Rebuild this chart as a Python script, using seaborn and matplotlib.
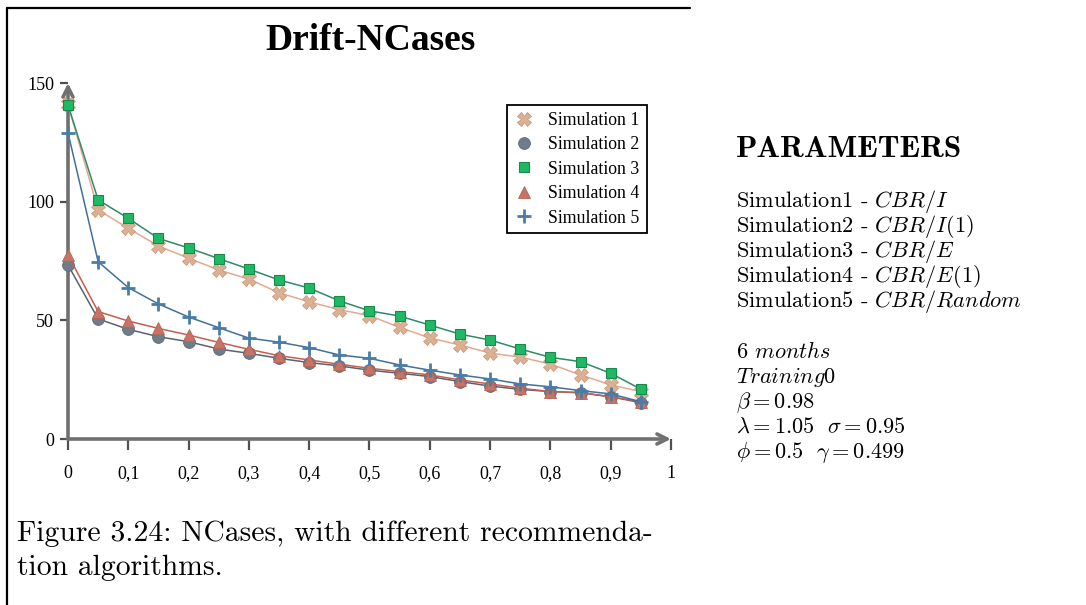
import matplotlib
matplotlib.use("Agg")
import matplotlib.pyplot as plt
import seaborn as sns
from matplotlib.lines import Line2D

# ---------------- data ----------------
drift = [0.0, 0.05, 0.1, 0.15, 0.2, 0.25, 0.3, 0.35, 0.4, 0.45,
         0.5, 0.55, 0.6, 0.65, 0.7, 0.75, 0.8, 0.85, 0.9, 0.95]
sim1 = [141, 96.5, 88.8, 81.3, 76.2, 71.2, 67.4, 61.6, 57.8, 54.5,
        52, 47, 42.6, 39.6, 36.2, 34.5, 31.6, 27, 22.8, 20]
sim2 = [73.3, 50.6, 46.2, 43.1, 41, 37.9, 36.1, 34, 32.2, 30.8,
        29, 27.7, 26.3, 24.2, 22.3, 20.9, 20, 19.5, 17.8, 15.3]
sim3 = [140.7, 100.7, 93, 84.5, 80.5, 76, 71.6, 67, 63.6, 58.2,
        54, 51.8, 48, 44.2, 41.7, 37.9, 34.4, 32.6, 27.7, 21]
sim4 = [77.5, 53.7, 49.7, 46.6, 43.8, 40.7, 37.8, 35.1, 33.3, 31.5,
        29.8, 28.4, 27, 24.9, 23.2, 21.4, 20, 19.5, 17.8, 15.7]
sim5 = [129, 74.7, 63.8, 56.9, 51.4, 46.9, 42.5, 40.8, 38.5, 35.4,
        34, 31.2, 29, 27, 25.3, 23.2, 22, 20.4, 19, 15.7]
series_labels = ["Simulation 1", "Simulation 2", "Simulation 3", "Simulation 4", "Simulation 5"]
x_ticks = [0, 0.1, 0.2, 0.3, 0.4, 0.5, 0.6, 0.7, 0.8, 0.9, 1.0]
x_ticklabels = ["0", "0,1", "0,2", "0,3", "0,4", "0,5", "0,6", "0,7", "0,8", "0,9", "1"]
y_ticks = [0, 50, 100, 150]
y_ticklabels = ["0", "50", "100", "150"]

title = "Drift-NCases"
param_title = "PARAMETERS"
param_sims = [r"Simulation1 - $CBR/I$", r"Simulation2 - $CBR/I(1)$",
              r"Simulation3 - $CBR/E$", r"Simulation4 - $CBR/E(1)$",
              r"Simulation5 - $CBR/Random$"]
param_other = [r"6 $months$", r"$Training0$", r"$\beta = 0.98$",
               r"$\lambda = 1.05\ \ \sigma = 0.95$",
               r"$\phi = 0.5\ \ \gamma = 0.499$"]
caption = ["Figure 3.24: NCases, with different recommenda-", "tion algorithms."]

# ---------------- style ----------------
sns.set_style("white")
plt.rcParams["mathtext.fontset"] = "cm"
plt.rcParams["font.family"] = ["Liberation Serif", "DejaVu Serif"]
plt.rcParams["text.color"] = "black"
plt.rcParams["axes.labelcolor"] = "black"
plt.rcParams["xtick.color"] = "black"
plt.rcParams["ytick.color"] = "black"

W, H = 1086, 605
def fx(x):
    return x / W
def fy(y):
    return 1 - y / H

fig = plt.figure(figsize=(W / 100, H / 100), dpi=100)
fig.patch.set_facecolor("white")
ax = fig.add_axes([fx(68), fy(439), (671 - 68) / W, (439 - 83) / H])
ax.set_facecolor("white")

styles = [
    # values, line color, marker, face, edge, size, mew, zorder
    (sim1, "#e4a98f", "X", "#dcb092", "#c99a7c", 9.5, 0.6, 3),
    (sim2, "#5a6270", "o", "#6f7c8a", "#5e6a78", 8.5, 0.6, 4),
    (sim4, "#c25f50", "^", "#c77466", "#b86555", 9, 0.6, 5),
    (sim5, "#41709a", "+", "#4a7ca8", "#4a7ca8", 10.5, 2.0, 6),
    (sim3, "#2f8a66", "s", "#1fb865", "#178a4c", 7.5, 0.8, 7),
]
for vals, lc, m, fc, ec, ms, mew, z in styles:
    sns.lineplot(x=drift, y=vals, ax=ax, color=lc, linewidth=1.1,
                 marker=m, markersize=ms, markerfacecolor=fc,
                 markeredgecolor=ec, markeredgewidth=mew,
                 clip_on=False, zorder=z, legend=False)

ax.set_xlim(0, 1)
ax.set_ylim(0, 150)
for s in ax.spines.values():
    s.set_visible(False)
ax.grid(False)

axis_col = "#707070"
arrow = dict(arrowstyle="->", color=axis_col, lw=2.6, shrinkA=0, shrinkB=0,
             mutation_scale=18)
ax.annotate("", xy=(1, 0), xytext=(0, 0), xycoords="axes fraction",
            textcoords="axes fraction", arrowprops=arrow, zorder=2)
ax.annotate("", xy=(0, 1), xytext=(0, 0), xycoords="axes fraction",
            textcoords="axes fraction", arrowprops=arrow, zorder=2)

ax.set_xticks(x_ticks)
ax.set_xticklabels(x_ticklabels)
ax.set_yticks(y_ticks)
ax.set_yticklabels(y_ticklabels)
ax.tick_params(axis="x", bottom=True, direction="out", length=8, width=1.6,
               color="#505050", pad=11, labelsize=13, labelcolor="black")
ax.tick_params(axis="y", left=True, direction="out", length=6, width=1.6,
               color="#505050", pad=4, labelsize=13, labelcolor="black")
ax.set_xlabel("")
ax.set_ylabel("")

# legend (markers only)
handles = []
for vals, lc, m, fc, ec, ms, mew, z in [styles[0], styles[1], styles[4], styles[2], styles[3]]:
    handles.append(Line2D([], [], linestyle="None", marker=m, markersize=ms,
                          markerfacecolor=fc, markeredgecolor=ec,
                          markeredgewidth=mew, color=lc))
leg = ax.legend(handles, series_labels, loc="upper left",
                bbox_to_anchor=(fx(507), fy(105)), bbox_transform=fig.transFigure,
                frameon=True, fancybox=False, framealpha=1, edgecolor="black",
                fontsize=12.8, handlelength=1.2, handletextpad=0.75,
                labelspacing=0.42, borderpad=0.38, borderaxespad=0)
leg.get_frame().set_linewidth(1.3)
for t in leg.get_texts():
    t.set_color("black")

# title
fig.text(fx(370), fy(40), title, ha="center", va="center",
         fontsize=27, fontweight="bold", family="Liberation Serif", color="black")

# page frame lines
fig.add_artist(Line2D([fx(7), fx(7)], [0, fy(8)], transform=fig.transFigure,
                      color="black", lw=1.6))
fig.add_artist(Line2D([fx(7), fx(690)], [fy(8), fy(8)], transform=fig.transFigure,
                      color="black", lw=1.6))

# parameters block
fig.text(fx(736), fy(157), param_title, ha="left", va="baseline",
         fontsize=22.5, family="cmb10", color="black")
base = 207
for i, s in enumerate(param_sims):
    fig.text(fx(736), fy(base + i * 25), s, ha="left", va="baseline",
             fontsize=16.1, family="cmr10", color="black")
base2 = 358
for i, s in enumerate(param_other):
    fig.text(fx(736), fy(base2 + i * 25), s, ha="left", va="baseline",
             fontsize=16.1, family="cmr10", color="black")

# caption
fig.text(fx(17), fy(541), caption[0], ha="left", va="baseline",
         fontsize=21.3, family="cmr10", color="black")
fig.text(fx(17), fy(575), caption[1], ha="left", va="baseline",
         fontsize=21.3, family="cmr10", color="black")

fig.savefig("out.png", dpi=100, facecolor="white")
